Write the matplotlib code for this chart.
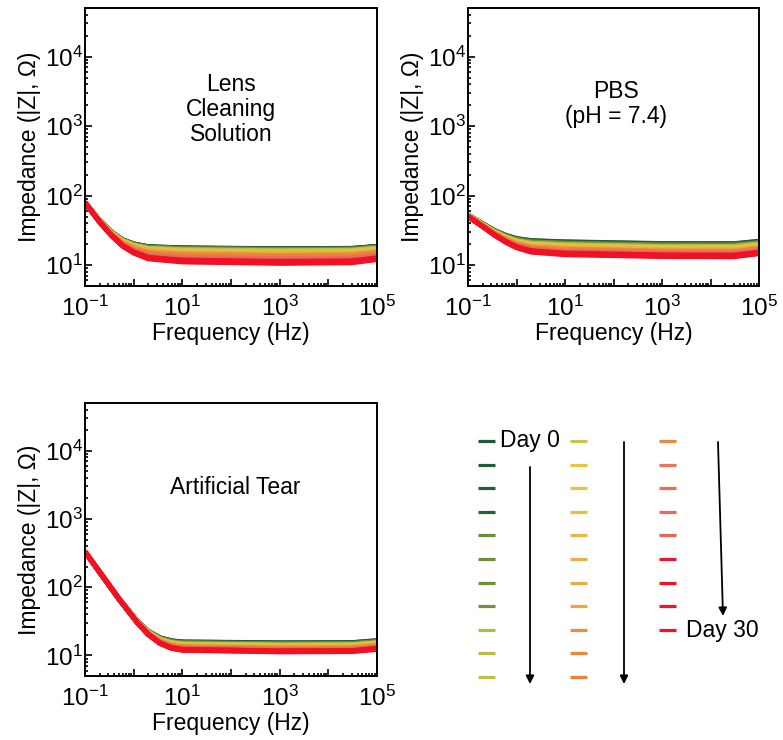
import numpy as np
import matplotlib
matplotlib.use('Agg')
import matplotlib.pyplot as plt
from matplotlib.ticker import LogLocator, FuncFormatter, NullFormatter

plt.rcParams['font.family'] = ['Liberation Sans', 'DejaVu Sans']
plt.rcParams['mathtext.default'] = 'regular'

########################################################################
# Data
########################################################################

days = list(range(31))

day_colors = [
    '#1d5a3a', '#1f5d3a', '#225f39', '#266138',
    '#6a8a38', '#6e8c3a', '#728e3b', '#76903c',
    '#b2bc40', '#b8be42', '#bec144',
    '#c8c64a', '#e6c63c', '#e8c43c', '#e9c03e',
    '#ebb444', '#ebb044', '#ebac44', '#eaa843',
    '#e8903e', '#e8883c', '#e8843c',
    '#e88a40', '#e8725a', '#e86e58', '#e86a56', '#e86654',
    '#e8162a', '#ec1428', '#f01226', '#f21024',
]

freq_lens = [0.1, 0.2, 0.35, 0.6, 1, 2, 10, 1e3, 3e4, 1e5]
z_lens = [
    [80.0, 43.7, 29.8, 23.1, 20.2, 18.4, 17.7, 17.2, 17.4, 18.6],
    [80.0, 43.7, 29.7, 23.0, 20.1, 18.3, 17.6, 17.1, 17.3, 18.5],
    [80.0, 43.6, 29.7, 23.0, 20.0, 18.2, 17.5, 17.0, 17.2, 18.4],
    [79.9, 43.6, 29.6, 22.9, 20.0, 18.1, 17.4, 16.9, 17.1, 18.3],
    [79.9, 43.5, 29.5, 22.8, 19.8, 17.9, 17.2, 16.7, 16.9, 18.1],
    [79.9, 43.5, 29.5, 22.7, 19.7, 17.8, 17.1, 16.6, 16.8, 18.0],
    [79.9, 43.4, 29.4, 22.6, 19.6, 17.7, 16.9, 16.4, 16.6, 17.8],
    [79.8, 43.4, 29.3, 22.5, 19.5, 17.6, 16.8, 16.3, 16.5, 17.7],
    [79.8, 43.3, 29.2, 22.3, 19.3, 17.4, 16.6, 16.1, 16.3, 17.5],
    [79.8, 43.3, 29.1, 22.2, 19.2, 17.2, 16.4, 15.9, 16.1, 17.3],
    [79.7, 43.2, 29.0, 22.1, 19.0, 17.0, 16.2, 15.7, 15.9, 17.1],
    [79.7, 43.1, 28.9, 21.9, 18.8, 16.8, 16.0, 15.5, 15.7, 16.9],
    [79.7, 43.1, 28.8, 21.8, 18.7, 16.6, 15.8, 15.3, 15.5, 16.7],
    [79.6, 43.0, 28.7, 21.7, 18.5, 16.5, 15.6, 15.1, 15.3, 16.5],
    [79.6, 42.9, 28.6, 21.5, 18.4, 16.3, 15.4, 14.9, 15.1, 16.3],
    [79.5, 42.9, 28.5, 21.4, 18.2, 16.1, 15.2, 14.7, 14.9, 16.1],
    [79.5, 42.8, 28.4, 21.3, 18.0, 15.9, 15.0, 14.5, 14.7, 15.9],
    [79.5, 42.7, 28.3, 21.1, 17.9, 15.7, 14.8, 14.3, 14.5, 15.7],
    [79.4, 42.6, 28.2, 20.9, 17.6, 15.4, 14.5, 14.0, 14.2, 15.4],
    [79.4, 42.5, 28.0, 20.7, 17.4, 15.2, 14.2, 13.7, 13.9, 15.1],
    [79.3, 42.4, 27.8, 20.5, 17.1, 14.9, 13.9, 13.4, 13.6, 14.8],
    [79.3, 42.3, 27.7, 20.3, 16.9, 14.6, 13.6, 13.1, 13.3, 14.5],
    [79.2, 42.2, 27.5, 20.1, 16.7, 14.3, 13.3, 12.8, 13.0, 14.2],
    [79.1, 42.1, 27.4, 19.9, 16.4, 14.1, 13.0, 12.5, 12.7, 13.9],
    [79.1, 42.0, 27.2, 19.7, 16.2, 13.8, 12.7, 12.2, 12.4, 13.6],
    [79.0, 41.9, 27.1, 19.5, 15.9, 13.5, 12.4, 11.9, 12.1, 13.3],
    [79.0, 41.8, 26.9, 19.3, 15.7, 13.2, 12.1, 11.6, 11.8, 13.0],
    [78.9, 41.7, 26.8, 19.1, 15.5, 12.9, 11.8, 11.3, 11.5, 12.7],
    [78.9, 41.7, 26.7, 18.9, 15.3, 12.8, 11.6, 11.1, 11.3, 12.5],
    [78.8, 41.6, 26.5, 18.7, 15.1, 12.5, 11.3, 10.8, 11.0, 12.2],
    [78.8, 41.5, 26.4, 18.6, 14.9, 12.3, 11.1, 10.6, 10.8, 12.0],
]

freq_pbs = [0.1, 0.2, 0.35, 0.6, 1, 2, 10, 1e3, 3e4, 1e5]
z_pbs = [
    [52.6, 39.4, 31.5, 26.8, 24.1, 22.5, 21.6, 20.4, 20.3, 22.0],
    [52.5, 39.3, 31.3, 26.6, 23.9, 22.3, 21.4, 20.2, 20.1, 21.8],
    [52.4, 39.2, 31.2, 26.4, 23.7, 22.0, 21.1, 19.9, 19.8, 21.5],
    [52.3, 39.0, 31.0, 26.3, 23.5, 21.8, 20.9, 19.7, 19.6, 21.3],
    [52.3, 38.9, 30.9, 26.1, 23.3, 21.6, 20.6, 19.5, 19.4, 21.0],
    [52.2, 38.8, 30.7, 25.9, 23.1, 21.3, 20.4, 19.2, 19.1, 20.8],
    [52.1, 38.7, 30.6, 25.7, 22.8, 21.1, 20.1, 19.0, 18.9, 20.5],
    [52.0, 38.6, 30.4, 25.5, 22.6, 20.8, 19.9, 18.7, 18.6, 20.3],
    [51.9, 38.4, 30.3, 25.3, 22.4, 20.6, 19.6, 18.5, 18.4, 20.0],
    [51.8, 38.3, 30.1, 25.2, 22.2, 20.4, 19.4, 18.3, 18.2, 19.8],
    [51.7, 38.2, 30.0, 25.0, 22.0, 20.1, 19.1, 18.0, 17.9, 19.5],
    [51.6, 38.1, 29.8, 24.8, 21.8, 19.9, 18.9, 17.8, 17.7, 19.3],
    [51.6, 38.0, 29.7, 24.6, 21.6, 19.7, 18.6, 17.6, 17.5, 19.0],
    [51.5, 37.8, 29.5, 24.4, 21.4, 19.4, 18.4, 17.3, 17.2, 18.8],
    [51.4, 37.7, 29.4, 24.2, 21.2, 19.2, 18.1, 17.1, 17.0, 18.5],
    [51.3, 37.6, 29.2, 24.1, 21.0, 18.9, 17.9, 16.8, 16.7, 18.3],
    [51.2, 37.5, 29.0, 23.9, 20.7, 18.7, 17.6, 16.6, 16.5, 18.1],
    [51.1, 37.4, 28.9, 23.7, 20.5, 18.5, 17.4, 16.4, 16.3, 17.8],
    [51.0, 37.2, 28.7, 23.5, 20.3, 18.2, 17.1, 16.1, 16.0, 17.6],
    [50.9, 37.1, 28.6, 23.3, 20.1, 18.0, 16.9, 15.9, 15.8, 17.3],
    [50.9, 37.0, 28.4, 23.1, 19.9, 17.8, 16.6, 15.7, 15.6, 17.1],
    [50.8, 36.9, 28.3, 23.0, 19.7, 17.5, 16.4, 15.4, 15.3, 16.8],
    [50.7, 36.8, 28.1, 22.8, 19.5, 17.3, 16.1, 15.2, 15.1, 16.6],
    [50.6, 36.6, 28.0, 22.6, 19.3, 17.1, 15.9, 15.0, 14.9, 16.3],
    [50.5, 36.5, 27.8, 22.4, 19.1, 16.8, 15.6, 14.7, 14.6, 16.1],
    [50.4, 36.4, 27.7, 22.2, 18.9, 16.6, 15.4, 14.5, 14.4, 15.8],
    [50.3, 36.3, 27.5, 22.0, 18.6, 16.3, 15.1, 14.2, 14.1, 15.6],
    [50.3, 36.2, 27.4, 21.9, 18.4, 16.1, 14.9, 14.0, 13.9, 15.3],
    [50.2, 36.0, 27.2, 21.7, 18.2, 15.9, 14.6, 13.8, 13.7, 15.1],
    [50.1, 35.9, 27.1, 21.5, 18.0, 15.6, 14.4, 13.5, 13.4, 14.8],
    [50.0, 35.8, 26.9, 21.3, 17.8, 15.4, 14.1, 13.3, 13.2, 14.6],
]

freq_tear = [0.1, 0.5, 1.2, 2, 3.5, 6, 10, 1e3, 3e4, 1e5]
z_tear = [
    [330, 67.8, 31.6, 22.6, 18.1, 16.4, 15.8, 15.3, 15.4, 16.5],
    [330, 67.8, 31.5, 22.5, 18.0, 16.3, 15.7, 15.2, 15.3, 16.4],
    [330, 67.7, 31.5, 22.4, 17.9, 16.2, 15.5, 15.0, 15.1, 16.2],
    [330, 67.7, 31.4, 22.3, 17.8, 16.0, 15.4, 14.9, 15.0, 16.1],
    [330, 67.7, 31.4, 22.3, 17.7, 15.9, 15.3, 14.8, 14.9, 15.9],
    [330, 67.7, 31.3, 22.2, 17.6, 15.8, 15.2, 14.6, 14.7, 15.8],
    [330, 67.6, 31.2, 22.1, 17.5, 15.7, 15.0, 14.5, 14.6, 15.7],
    [330, 67.6, 31.2, 22.0, 17.4, 15.5, 14.9, 14.4, 14.5, 15.5],
    [330, 67.6, 31.1, 21.9, 17.3, 15.4, 14.8, 14.2, 14.3, 15.4],
    [330, 67.6, 31.1, 21.9, 17.1, 15.3, 14.6, 14.1, 14.2, 15.2],
    [330, 67.5, 31.0, 21.8, 17.0, 15.2, 14.5, 14.0, 14.1, 15.1],
    [330, 67.5, 30.9, 21.7, 16.9, 15.0, 14.4, 13.8, 13.9, 15.0],
    [330, 67.5, 30.9, 21.6, 16.8, 14.9, 14.2, 13.7, 13.8, 14.8],
    [330, 67.4, 30.8, 21.5, 16.7, 14.8, 14.1, 13.6, 13.7, 14.7],
    [330, 67.4, 30.8, 21.4, 16.6, 14.7, 14.0, 13.4, 13.5, 14.5],
    [330, 67.4, 30.7, 21.4, 16.5, 14.6, 13.9, 13.3, 13.4, 14.4],
    [330, 67.4, 30.6, 21.3, 16.4, 14.4, 13.7, 13.2, 13.3, 14.3],
    [330, 67.3, 30.6, 21.2, 16.3, 14.3, 13.6, 13.0, 13.1, 14.1],
    [330, 67.3, 30.5, 21.1, 16.2, 14.2, 13.5, 12.9, 13.0, 14.0],
    [330, 67.3, 30.5, 21.0, 16.1, 14.1, 13.3, 12.8, 12.9, 13.8],
    [330, 67.3, 30.4, 20.9, 16.0, 13.9, 13.2, 12.6, 12.7, 13.7],
    [330, 67.2, 30.3, 20.9, 15.9, 13.8, 13.1, 12.5, 12.6, 13.6],
    [330, 67.2, 30.3, 20.8, 15.8, 13.7, 12.9, 12.4, 12.5, 13.4],
    [330, 67.2, 30.2, 20.7, 15.6, 13.6, 12.8, 12.2, 12.3, 13.3],
    [330, 67.2, 30.2, 20.6, 15.5, 13.4, 12.7, 12.1, 12.2, 13.1],
    [330, 67.1, 30.1, 20.5, 15.4, 13.3, 12.6, 12.0, 12.1, 13.0],
    [330, 67.1, 30.0, 20.4, 15.3, 13.2, 12.4, 11.8, 11.9, 12.9],
    [330, 67.1, 30.0, 20.4, 15.2, 13.1, 12.3, 11.7, 11.8, 12.7],
    [330, 67.0, 29.9, 20.3, 15.1, 12.9, 12.2, 11.6, 11.7, 12.6],
    [330, 67.0, 29.9, 20.2, 15.0, 12.8, 12.0, 11.4, 11.5, 12.4],
    [330, 67.0, 29.8, 20.1, 14.9, 12.7, 11.9, 11.3, 11.4, 12.3],
]

panel_titles = ['Lens\nCleaning\nSolution', 'PBS\n(pH = 7.4)', 'Artificial Tear']

########################################################################
# Plot
########################################################################

FS = 16.5

def x_fmt(v, pos):
    e = int(round(np.log10(v)))
    if e % 2 == 0:
        return ''
    return '$10^{%d}$' % e

def y_fmt(v, pos):
    e = int(round(np.log10(v)))
    return '$10^{%d}$' % e

def impedance_panel(ax, freq, z, title, tx, ty):
    for d in days:
        ax.plot(freq, z[d], color=day_colors[d], lw=3.6,
                solid_capstyle='butt', solid_joinstyle='round')
    ax.set_xscale('log')
    ax.set_yscale('log')
    ax.set_xlim(0.1, 1e5)
    ax.set_ylim(5, 5e4)
    ax.xaxis.set_major_locator(LogLocator(base=10, numticks=20))
    ax.xaxis.set_minor_locator(LogLocator(base=10, subs=np.arange(2, 10), numticks=20))
    ax.yaxis.set_major_locator(LogLocator(base=10, numticks=20))
    ax.yaxis.set_minor_locator(LogLocator(base=10, subs=np.arange(2, 10), numticks=20))
    ax.xaxis.set_major_formatter(FuncFormatter(x_fmt))
    ax.yaxis.set_major_formatter(FuncFormatter(y_fmt))
    ax.xaxis.set_minor_formatter(NullFormatter())
    ax.yaxis.set_minor_formatter(NullFormatter())
    ax.tick_params(which='both', direction='in', top=False, right=False, width=1.2, labelsize=FS + 1)
    ax.tick_params(which='major', length=5)
    ax.tick_params(which='minor', length=2.5)
    ax.tick_params(axis='x', which='major', pad=7)
    ax.tick_params(axis='y', which='major', pad=1.5)
    for s in ax.spines.values():
        s.set_linewidth(1.4)
    ax.set_xlabel('Frequency (Hz)', fontsize=FS, labelpad=1)
    ax.set_ylabel('Impedance (|Z|, Ω)', fontsize=FS, labelpad=3)
    ax.text(tx, ty, title, transform=ax.transAxes, ha='center', va='center',
            fontsize=FS, linespacing=1.1)

W, H = 783, 740
fig = plt.figure(figsize=(W / 100, H / 100), dpi=100)

ax1 = fig.add_axes([85 / W, 1 - 286 / H, 292 / W, 278 / H])
ax2 = fig.add_axes([468 / W, 1 - 286 / H, 291 / W, 278 / H])
ax3 = fig.add_axes([85 / W, 1 - 676 / H, 292 / W, 273 / H])

impedance_panel(ax1, freq_lens, z_lens, panel_titles[0], 0.50, 0.635)
impedance_panel(ax2, freq_pbs, z_pbs, panel_titles[1], 0.51, 0.655)
impedance_panel(ax3, freq_tear, z_tear, panel_titles[2], 0.515, 0.69)

# colour key in pixel coordinates
lg = fig.add_axes([0, 0, 1, 1])
lg.set_xlim(0, W)
lg.set_ylim(H, 0)
lg.axis('off')

col_x = [478, 570, 659]
col_len = [11, 11, 9]
row_y0, row_dy, dash = 441, 23.6, 17
d = 0
for c in range(3):
    for r in range(col_len[c]):
        y = row_y0 + r * row_dy
        lg.plot([col_x[c], col_x[c] + dash], [y, y], color=day_colors[days[d]],
                lw=2.3, solid_capstyle='butt')
        d += 1

lg.text(500, 441, 'Day 0', ha='left', va='center', fontsize=FS)
lg.text(686, 630, 'Day 30', ha='left', va='center', fontsize=FS)

arrow = dict(arrowstyle='-|>', color='black', lw=1.3, mutation_scale=12, shrinkA=0, shrinkB=0)
lg.annotate('', xy=(530, 684), xytext=(530, 467), arrowprops=arrow)
lg.annotate('', xy=(624, 684), xytext=(624, 442), arrowprops=arrow)
lg.annotate('', xy=(723, 616), xytext=(718, 442), arrowprops=arrow)

plt.savefig('out.png', dpi=100)
